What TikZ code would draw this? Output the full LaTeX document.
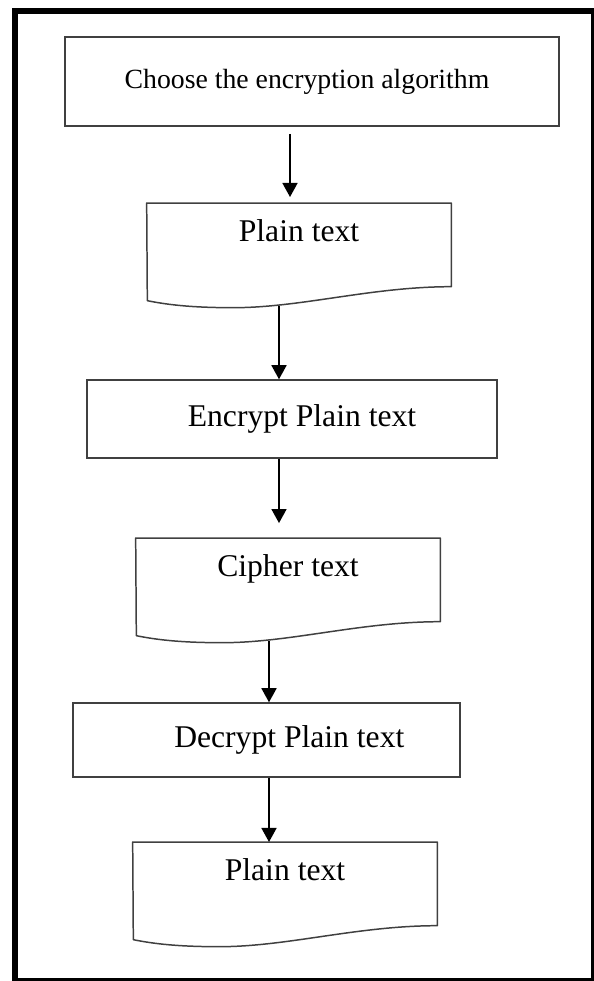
\documentclass[tikz,border=0pt]{standalone}
\usepackage{fontspec}
\setmainfont{Liberation Serif}
\usetikzlibrary{arrows.meta, positioning}
\definecolor{edgegray}{rgb}{0.25,0.25,0.25}

\begin{document}
\begin{tikzpicture}[x=0.02cm, y=-0.02cm,
    box/.style={rectangle, draw=edgegray, line width=0.85pt, inner sep=0pt, align=center, font=\fontsize{18}{21}\selectfont},
    docbox/.style={rectangle, inner sep=0pt, minimum width=6.08cm, text height=0.76cm, text depth=0.9cm, anchor=north, font=\fontsize{18}{21}\selectfont},
    docline/.style={draw=edgegray, line width=0.85pt, line join=round},
    arrow/.style={-{Triangle[width=8.5pt,length=8pt]}, line width=1.1pt}
]
\useasboundingbox (0,0) rectangle (594,981);

\fill (12,8) rectangle (18,981);
\fill (12,8) rectangle (594,14);
\fill (591,8) rectangle (594,981);
\fill (12,978) rectangle (594,981);

\node[box, minimum width=9.88cm, minimum height=1.78cm, font=\fontsize{15.8}{19}\selectfont] (choose) at (312,81.5) {Choose the encryption algorithm\hspace*{5.7pt}};
\node[docbox] (doc1) at (299,203) {Plain text};
\node[box, minimum width=8.2cm, minimum height=1.56cm] (encrypt) at (292,419) {\hspace*{11.4pt}Encrypt Plain text};
\node[docbox] (doc2) at (288,538) {Cipher text};
\node[box, minimum width=7.74cm, minimum height=1.48cm] (decrypt) at (266.5,740) {\hspace*{26pt}Decrypt Plain text};
\node[docbox] (doc3) at (285,842) {Plain text};

\foreach \d in {doc1,doc2,doc3}
  \draw[docline] (\d.north west) -- (\d.north east) -- (\d.south east)
    .. controls +(-80,0) and +(68,0) .. ++(-218,21) coordinate (\d-dip)
    .. controls +(-42,0) and +(20,4) .. ++(-86,-7) -- cycle;

\coordinate (col1) at (290,0);
\coordinate (col2) at (279,0);
\coordinate (col3) at (269,0);

\draw[arrow, shorten <=4pt, shorten >=3.4pt] (choose.south -| col1) -- (col1 |- doc1.north);
\draw[arrow, shorten <=-1pt] (doc1-dip -| col2) -- (col2 |- encrypt.north);
\draw[arrow, shorten >=8.5pt] (encrypt.south -| col2) -- (col2 |- doc2.north);
\draw[arrow, shorten <=-1pt] (doc2-dip -| col3) -- (col3 |- decrypt.north);
\draw[arrow] (decrypt.south -| col3) -- (col3 |- doc3.north);

\end{tikzpicture}
\end{document}
